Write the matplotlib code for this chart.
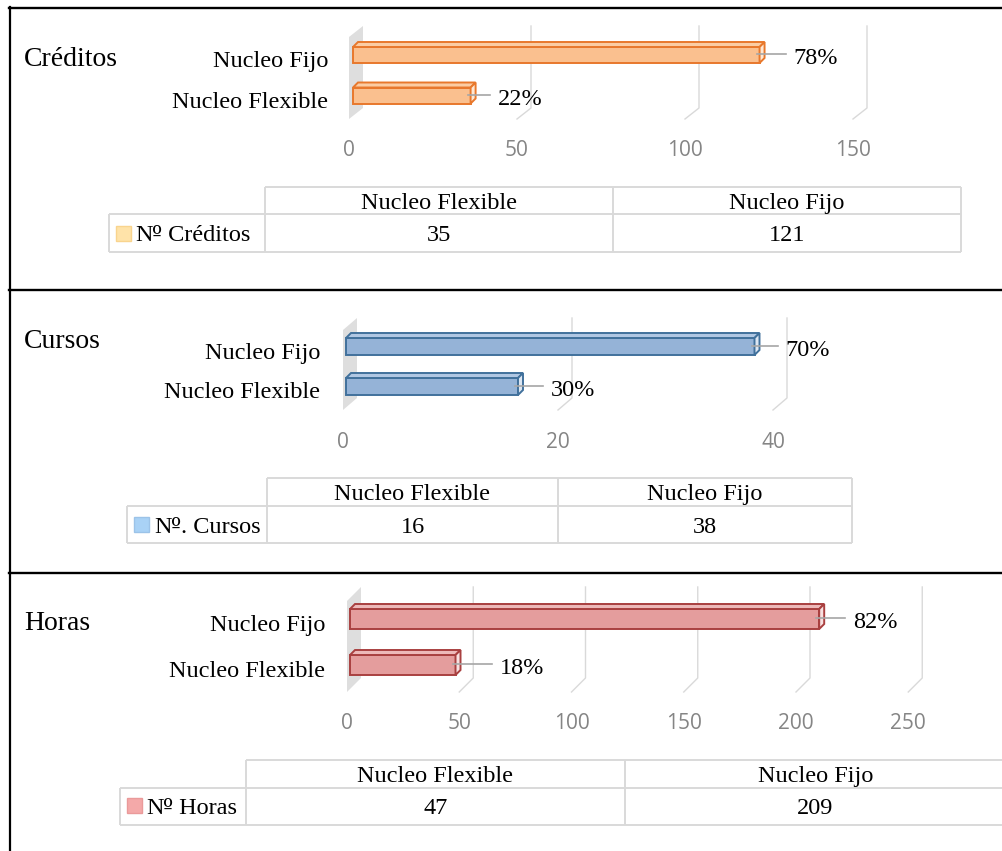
import matplotlib
matplotlib.use('Agg')
import matplotlib.pyplot as plt
from matplotlib.patches import Polygon, Rectangle

# ---------------- data ----------------
categories = ["Nucleo Flexible", "Nucleo Fijo"]
panel_titles = ["Créditos", "Cursos", "Horas"]
series_names = ["Nº Créditos", "Nº. Cursos", "Nº Horas"]
creditos = [35, 121]
cursos = [16, 38]
horas = [47, 209]
ticks_creditos = [0, 50, 100, 150]
ticks_cursos = [0, 20, 40]
ticks_horas = [0, 50, 100, 150, 200, 250]

# ---------------- style / layout ----------------
W, H, DPI = 1002, 851, 100
SERIF = ['Liberation Serif', 'DejaVu Serif']
SANS = ['Open Sans', 'DejaVu Sans']
FS = 17.5
GRID = '#D9D9D9'

colors = [
    dict(fill='#FAC08F', edge='#E8782C', top='#FBCDA4', end='#FEE8D4', sw='#FFE3A9', swe='#F9D48E'),
    dict(fill='#95B3D7', edge='#41719C', top='#B0C7E3', end='#DCE6F2', sw='#A9D2F6', swe='#9CC3E8'),
    dict(fill='#E49D9D', edge='#A94040', top='#EDB9B9', end='#F8E0E0', sw='#F4A9A9', swe='#EA9A9A'),
]

layouts = [
    dict(title_base=65.7, fx0=349, ppu=3.36, top=26, floor_back=108, floor=119,
         c=[95.5, 55], bar_h=16, depth=5, bx=4, lab_x=328, tick_base=156,
         lbl_off=[27, 34], tx=[109, 265, 613, 961], ty=[187, 214, 252],
         base_h=209, base_v=240.7, sw=(116, 226), text_x=135),
    dict(title_base=348.3, fx0=343, ppu=10.75, top=318, floor_back=398, floor=410,
         c=[386.5, 346.5], bar_h=17, depth=5, bx=3, lab_x=320, tick_base=448.3,
         lbl_off=[33, 31], tx=[127, 267, 558, 852], ty=[478, 506, 543],
         base_h=500, base_v=532.7, sw=(134, 517), text_x=154),
    dict(title_base=630, fx0=347, ppu=2.245, top=587, floor_back=678, floor=692,
         c=[665, 619], bar_h=20, depth=5, bx=3, lab_x=325, tick_base=729.3,
         lbl_off=[44, 34], tx=[120, 246, 625, 1006], ty=[760, 788, 825],
         base_h=781.7, base_v=814, sw=(127, 798), text_x=146),
]

values_list = [creditos, cursos, horas]
ticks_list = [ticks_creditos, ticks_cursos, ticks_horas]

fig = plt.figure(figsize=(W / DPI, H / DPI), dpi=DPI)
bg = fig.add_axes([0, 0, 1, 1])
bg.set_xlim(0, W)
bg.set_ylim(H, 0)
bg.axis('off')


def rich_text(x, y, label):
    """Draw label; the ordinal sign 'º' is drawn in DejaVu Serif (underlined glyph)."""
    pieces = []
    buf = ''
    for ch in label:
        if ch == 'º':
            if buf:
                pieces.append((buf, SERIF, FS))
                buf = ''
            pieces.append((ch, ['DejaVu Serif'], FS - 2))
        else:
            buf += ch
    if buf:
        pieces.append((buf, SERIF, FS))
    renderer = fig.canvas.get_renderer()
    cx = x
    for txt, fam, fs in pieces:
        t = bg.text(cx, y, txt, ha='left', va='baseline', fontfamily=fam,
                    fontsize=fs, color='black')
        bb = t.get_window_extent(renderer=renderer)
        cx = bb.x1 - (1 if txt == 'º' else 0)


# frame lines
bg.plot([10, 10], [6.5, H], color='black', lw=1.6)
for y in [7.5, 289.7, 572.7]:
    bg.plot([9, W], [y, y], color='black', lw=1.7)

for k in range(3):
    L = layouts[k]
    vals = values_list[k]
    ticks = ticks_list[k]
    col = colors[k]
    xmax = ticks[-1]
    fx0, ppu = L['fx0'], L['ppu']
    s = L['c'][0] - L['c'][1]  # px per category unit

    def ypx(p, L=L, s=s):
        return (L['c'][0] - p) / s

    ax = fig.add_axes([fx0 / W, 1 - L['floor'] / H,
                       xmax * ppu / W, (L['floor'] - L['top']) / H])
    ax.set_xlim(0, xmax)
    y_floor, y_top = ypx(L['floor']), ypx(L['top'])
    ax.set_ylim(y_floor, y_top)
    ax.axis('off')
    ax.patch.set_alpha(0)

    dxp = lambda p: p / ppu
    dyp = lambda p: p / s
    wy = L['floor'] - L['floor_back']
    wx = 14

    # side wall
    wall = Polygon([(0, y_floor), (dxp(wx), y_floor + dyp(wy)), (dxp(wx), y_top),
                    (0, y_top - dyp(wy))], closed=True, facecolor='#DEDEDE',
                   edgecolor='none', clip_on=False, zorder=1)
    ax.add_patch(wall)

    # gridlines (back wall + floor)
    for t in ticks[1:]:
        ax.plot([t + dxp(wx), t + dxp(wx), t], [y_top, y_floor + dyp(wy), y_floor],
                color=GRID, lw=1.0, clip_on=False, zorder=1)

    # tick labels
    for t in ticks:
        ax.annotate(str(t), xy=(t, y_floor), xytext=(0, -(L['tick_base'] - L['floor'])),
                    textcoords='offset pixels', ha='center', va='baseline',
                    fontfamily=SANS, fontsize=15, color='#858585', annotation_clip=False)

    # bars (3D look)
    ypos = list(range(len(categories)))
    h = dyp(L['bar_h'])
    left = dxp(L['bx'])
    d = L['depth']
    ax.barh(ypos, vals, height=h, left=left, color=col['fill'],
            edgecolor=col['edge'], lw=1.4, zorder=3, clip_on=False)
    total = sum(vals)
    for i, v in zip(ypos, vals):
        R = left + v
        top_face = Polygon([(left, i + h / 2), (left + dxp(d), i + h / 2 + dyp(d)),
                            (R + dxp(d), i + h / 2 + dyp(d)), (R, i + h / 2)],
                           closed=True, facecolor=col['top'], edgecolor=col['edge'],
                           lw=1.4, zorder=4, clip_on=False)
        end_face = Polygon([(R, i + h / 2), (R + dxp(d), i + h / 2 + dyp(d)),
                            (R + dxp(d), i - h / 2 + dyp(d)), (R, i - h / 2)],
                           closed=True, facecolor=col['end'], edgecolor=col['edge'],
                           lw=1.4, zorder=4, clip_on=False)
        ax.add_patch(top_face)
        ax.add_patch(end_face)
        # category label
        ax.annotate(categories[i], xy=(0, i), xytext=(-(fx0 - L['lab_x']), -12),
                    textcoords='offset pixels', ha='right', va='baseline',
                    fontfamily=SERIF, fontsize=FS, color='black', annotation_clip=False)
        # data label with leader line
        off = L['lbl_off'][i]
        ax.plot([R - dxp(3), R + dxp(off - 8)], [i + dyp(1), i + dyp(1)],
                color='#A6A6A6', lw=1.2, zorder=5, clip_on=False)
        pct = round(v / total * 100)
        ax.annotate(f"{pct}%", xy=(R, i), xytext=(off, -9.5),
                    textcoords='offset pixels', ha='left', va='baseline',
                    fontfamily=SERIF, fontsize=FS, color='black', annotation_clip=False)

    # panel title
    bg.text(24, L['title_base'], panel_titles[k], ha='left', va='baseline',
            fontfamily=SERIF, fontsize=20, color='black')

    # data table
    x0, x1, x2, x3 = L['tx']
    y0, y1, y2 = L['ty']
    tl = dict(color=GRID, lw=1.4, solid_capstyle='butt')
    bg.plot([x1, x3], [y0, y0], **tl)
    bg.plot([x0, x3], [y1, y1], **tl)
    bg.plot([x0, x3], [y2, y2], **tl)
    bg.plot([x0, x0], [y1, y2], **tl)
    for xv in (x1, x2, x3):
        bg.plot([xv, xv], [y0, y2], **tl)
    cols_x = [(x1 + x2) / 2, (x2 + x3) / 2]
    for j, cat in enumerate(categories):
        bg.text(cols_x[j], L['base_h'], cat, ha='center', va='baseline',
                fontfamily=SERIF, fontsize=FS, color='black')
        bg.text(cols_x[j], L['base_v'], str(vals[j]), ha='center', va='baseline',
                fontfamily=SERIF, fontsize=FS, color='black')
    sx, sy = L['sw']
    bg.add_patch(Rectangle((sx, sy), 15, 15, facecolor=col['sw'], edgecolor=col['swe'], lw=1))
    rich_text(L['text_x'], L['base_v'], series_names[k])

fig.savefig('out.png', dpi=DPI)
